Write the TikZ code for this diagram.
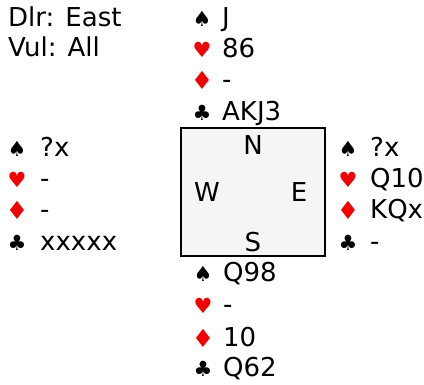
\documentclass[tikz,border=0pt]{standalone}
\usepackage{fontspec}
\setmainfont{DejaVu Sans}
\definecolor{suitred}{RGB}{240,0,0}
\definecolor{boxfill}{RGB}{245,245,245}
\tikzset{
  txt/.style={anchor=base west, inner sep=0pt, font=\fontsize{26}{30}\selectfont},
  suit/.style={anchor=base, inner sep=0pt, font=\fontsize{21}{24}\selectfont},
  redsuit/.style={suit, text=suitred},
  diam/.style={redsuit, font=\fontsize{25}{28}\selectfont},
  dir/.style={anchor=base, inner sep=0pt, font=\fontsize{26}{30}\selectfont},
  table/.style={draw=black, line width=1.6pt, fill=boxfill}
}
\begin{document}
\begin{tikzpicture}[x=1pt,y=-1pt]
\useasboundingbox (0,0) rectangle (424,385);
% info
\node[txt] (dlr) at (8,27) {Dlr: East};
\node[txt] (vul) at (8,57) {Vul: All};
% table
\draw[table] (181,128) rectangle (325,256);
\node[dir] (N) at (253,155) {N};
\node[dir] (W) at (207,202) {W};
\node[dir] (E) at (299,202) {E};
\node[dir] (S) at (253,252) {S};
% North
\node[suit] (ns) at (202,27) {♠};  \node[txt] (nst) at (222,27) {J};
\node[redsuit] (nh) at (202,58) {♥}; \node[txt] (nht) at (222,58) {86};
\node[diam] (nd) at (202,90) {♦}; \node[txt] (ndt) at (222,89) {-};
\node[suit] (nc) at (202,121) {♣};  \node[txt] (nct) at (222,121) {AKJ3};
% West
\node[suit] (ws) at (17,157) {♠};  \node[txt] (wst) at (40,157) {?x};
\node[redsuit] (wh) at (17,188) {♥}; \node[txt] (wht) at (40,188) {-};
\node[diam] (wd) at (17,220) {♦}; \node[txt] (wdt) at (40,219) {-};
\node[suit] (wc) at (17,251) {♣};  \node[txt] (wct) at (40,251) {xxxxx};
% East
\node[suit] (es) at (348,157) {♠};  \node[txt] (est) at (370,157) {?x};
\node[redsuit] (eh) at (348,188) {♥}; \node[txt] (eht) at (370,188) {Q10};
\node[diam] (ed) at (348,220) {♦}; \node[txt] (edt) at (370,219) {KQx};
\node[suit] (ec) at (348,251) {♣};  \node[txt] (ect) at (370,251) {-};
% South
\node[suit] (ss) at (203,282) {♠};  \node[txt] (sst) at (223,282) {Q98};
\node[redsuit] (sh) at (203,314) {♥}; \node[txt] (sht) at (223,314) {-};
\node[diam] (sd) at (203,348) {♦}; \node[txt] (sdt) at (223,347) {10};
\node[suit] (sc) at (203,377) {♣};  \node[txt] (sct) at (223,377) {Q62};
\end{tikzpicture}
\end{document}
